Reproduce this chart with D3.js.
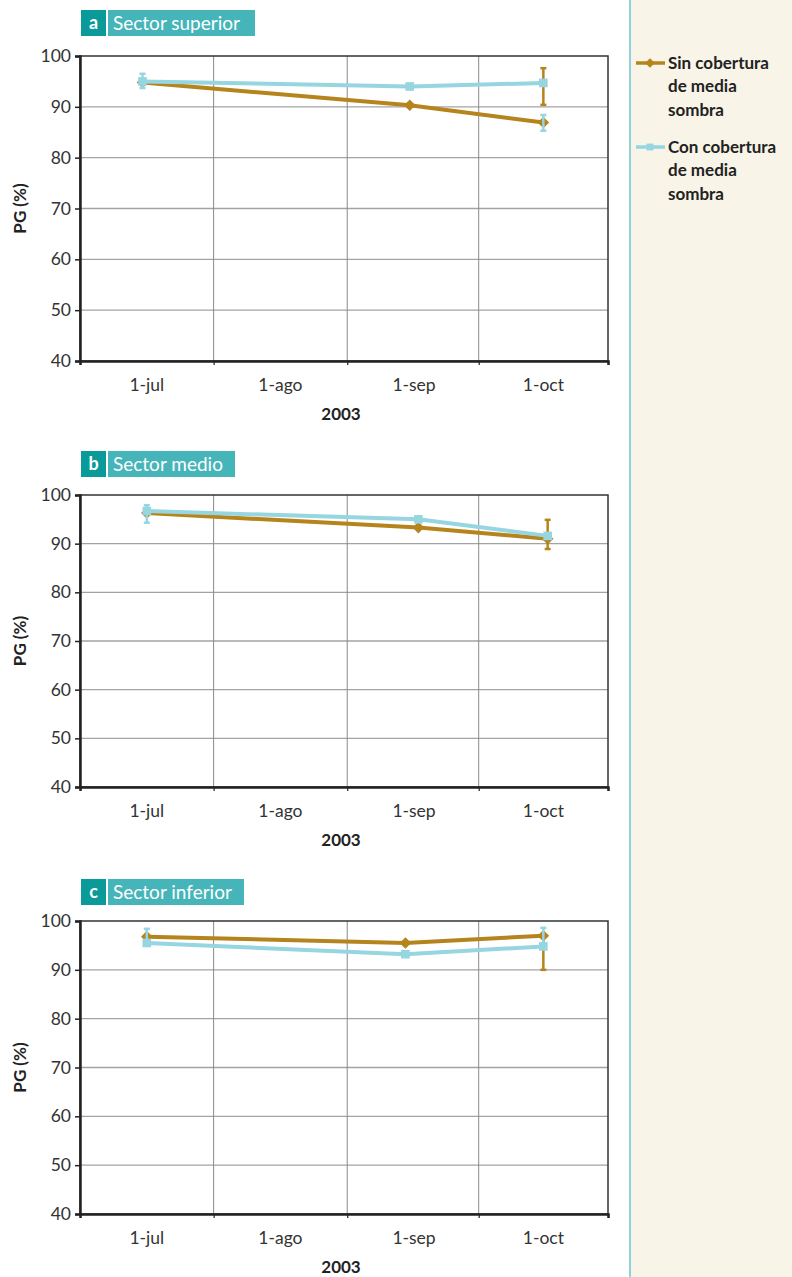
<!DOCTYPE html>
<html>
<head>
<meta charset="utf-8">
<script src="https://cdn.jsdelivr.net/npm/d3@7"></script>
<style>
  html, body { margin: 0; padding: 0; background: #fff; }
  svg { display: block; font-family: Lato, "Open Sans", sans-serif; }
</style>
</head>
<body>
<svg id="chart" width="792" height="1277"></svg>
<script>
// Month ticks on the x axis (labels sit in the middle of each month band)
const monthLabels = ["1-jul", "1-ago", "1-sep", "1-oct"];
const monthDates = ["2003-07-01", "2003-08-01", "2003-09-01", "2003-10-01"];
const yTicks = [40, 50, 60, 70, 80, 90, 100];

// Panels
const sectorLetters = ["a", "b", "c"];
const sectorNames = ["Sector superior", "Sector medio", "Sector inferior"];

// Sampling dates per sector
const sampleDates = [
  ["2003-06-30", "2003-08-31", "2003-10-01"],
  ["2003-07-01", "2003-09-02", "2003-10-02"],
  ["2003-07-01", "2003-08-30", "2003-10-01"]
];

// PG (%) without shade cover
const sinValues = [
  [94.8, 90.3, 86.9],
  [96.3, 93.3, 91.0],
  [96.8, 95.5, 97.0]
];
// PG (%) with shade cover
const conValues = [
  [95.0, 94.0, 94.7],
  [96.7, 95.0, 91.6],
  [95.5, 93.2, 94.8]
];
// Error bars [low, high], null where none is drawn
const sinErrors = [
  [null, null, [90.4, 97.6]],
  [null, null, [88.9, 94.9]],
  [null, null, [90.0, 97.0]]
];
const conErrors = [
  [[93.7, 96.5], null, [85.3, 88.4]],
  [[94.3, 97.9], null, null],
  [[95.5, 98.4], null, [94.8, 98.6]]
];

const legendLines = [["Sin cobertura", "de media", "sombra"], ["Con cobertura", "de media", "sombra"]];

const BROWN = "#b5841c";
const CYAN = "#95d6e0";
const parse = d3.timeParse("%Y-%m-%d");
const FS = 17.5;

const svg = d3.select("#chart");

// Side panel
svg.append("rect").attr("x", 631).attr("y", 0).attr("width", 161).attr("height", 1277).attr("fill", "#f8f4e8");
svg.append("line").attr("x1", 630).attr("x2", 630).attr("y1", 0).attr("y2", 1277)
  .attr("stroke", "#8fd2de").attr("stroke-width", 2);

// Legend
const legend = svg.append("g");
[0, 1].forEach(i => {
  const g = legend.append("g").attr("transform", `translate(0,${i === 0 ? 63 : 147})`);
  const col = i === 0 ? BROWN : CYAN;
  g.append("line").attr("x1", 636).attr("x2", 665).attr("y1", 0).attr("y2", 0)
    .attr("stroke", col).attr("stroke-width", 3.5);
  g.append("path").attr("d", d3.symbol(i === 0 ? d3.symbolDiamond2 : d3.symbolSquare2, i === 0 ? 60 : 60)())
    .attr("transform", "translate(650,0)").attr("fill", col);
  legendLines[i].forEach((t, k) => {
    g.append("text").attr("x", 668).attr("y", k * 23.5).attr("dy", "0.35em")
      .attr("font-size", 17).attr("font-weight", 700).attr("fill", "#222")
      .text(t);
  });
});

// Panel layout
const plotLeft = 80, plotRight = 608;
const plotTops = [56, 495, 921];
const plotBottoms = [361, 787, 1214];
const titleTops = [10, 451, 879];
const labelBoxWidths = [147, 127, 136];

const x = d3.scaleTime()
  .domain([new Date(2003, 5, 15, 12), new Date(2003, 9, 16)])
  .range([plotLeft, plotRight]);
const bandEdges = [new Date(2003, 6, 16, 12), new Date(2003, 7, 16, 12), new Date(2003, 8, 16)];

sectorLetters.forEach((letter, p) => {
  const top = plotTops[p], bottom = plotBottoms[p];
  const y = d3.scaleLinear().domain([40, 100]).range([bottom, top]);
  const g = svg.append("g");

  // Title boxes
  const tt = titleTops[p];
  g.append("rect").attr("x", 81).attr("y", tt).attr("width", 25).attr("height", 26).attr("fill", "#0a9a9a");
  g.append("text").attr("x", 93.5).attr("y", tt + 13).attr("dy", "0.35em").attr("text-anchor", "middle")
    .attr("font-size", 18).attr("font-weight", 700).attr("fill", "#fff").text(letter);
  g.append("rect").attr("x", 108).attr("y", tt).attr("width", labelBoxWidths[p]).attr("height", 26).attr("fill", "#46b5b9");
  g.append("text").attr("x", 113).attr("y", tt + 13).attr("dy", "0.35em")
    .attr("font-size", 19).attr("fill", "#fff").text(sectorNames[p]);

  // Grid
  g.append("g").selectAll("line").data(yTicks.slice(1, -1)).join("line")
    .attr("x1", plotLeft).attr("x2", plotRight).attr("y1", d => y(d)).attr("y2", d => y(d))
    .attr("stroke", "#a3a3a3").attr("stroke-width", 1.3);
  g.append("g").selectAll("line").data(bandEdges).join("line")
    .attr("x1", d => x(d)).attr("x2", d => x(d)).attr("y1", top).attr("y2", bottom)
    .attr("stroke", "#8a8a8a").attr("stroke-width", 1);

  // Frame
  g.append("rect").attr("x", plotLeft).attr("y", top).attr("width", plotRight - plotLeft).attr("height", bottom - top)
    .attr("fill", "none").attr("stroke", "#333").attr("stroke-width", 1.5);

  // Y axis
  const yAxis = d3.axisLeft(y).tickValues(yTicks).tickSize(5).tickPadding(4);
  const ya = g.append("g").attr("transform", `translate(${plotLeft},0)`).call(yAxis);
  ya.select(".domain").attr("stroke", "#222").attr("stroke-width", 2.5);
  ya.selectAll(".tick line").attr("stroke", "#222").attr("stroke-width", 1.5);
  ya.selectAll(".tick text").attr("font-size", FS).attr("fill", "#333")
    .attr("font-family", "Lato, 'Open Sans', sans-serif");

  // X axis: ticks at band edges, labels centred on month starts
  const xa = g.append("g").attr("transform", `translate(0,${bottom})`)
    .call(d3.axisBottom(x).tickValues([x.domain()[0], ...bandEdges, x.domain()[1]]).tickSize(4).tickFormat(""));
  xa.select(".domain").attr("stroke", "#222").attr("stroke-width", 2.5);
  xa.selectAll(".tick line").attr("stroke", "#222").attr("stroke-width", 1.2);
  g.append("g").selectAll("text").data(monthDates).join("text")
    .attr("x", d => x(parse(d))).attr("y", bottom + 24).attr("dy", "0.35em")
    .attr("text-anchor", "middle").attr("font-size", FS).attr("fill", "#333")
    .text((d, i) => monthLabels[i]);
  g.append("text").attr("x", (plotLeft + plotRight) / 2 - 3).attr("y", bottom + 53).attr("dy", "0.35em")
    .attr("text-anchor", "middle").attr("font-size", 17).attr("font-weight", 700).attr("fill", "#222").text("2003");

  // Y title
  g.append("text").attr("transform", `translate(20,${(top + bottom) / 2}) rotate(-90)`)
    .attr("dy", "0.35em").attr("text-anchor", "middle").attr("font-size", 17).attr("font-weight", 700)
    .attr("fill", "#222").text("PG (%)");

  // Series
  const series = [
    { vals: sinValues[p], errs: sinErrors[p], color: BROWN, sym: d3.symbolDiamond2, size: 85 },
    { vals: conValues[p], errs: conErrors[p], color: CYAN, sym: d3.symbolSquare2, size: 95 }
  ];
  const line = d3.line().x(d => x(d.date)).y(d => y(d.v));

  series.forEach(s => {
    const pts = s.vals.map((v, i) => ({ date: parse(sampleDates[p][i]), v, e: s.errs[i] }));
    const sg = g.append("g");
    sg.append("path").datum(pts).attr("d", line).attr("fill", "none")
      .attr("stroke", s.color).attr("stroke-width", 4);
    const eb = sg.selectAll("g.err").data(pts.filter(d => d.e)).join("g");
    eb.append("line").attr("x1", d => x(d.date)).attr("x2", d => x(d.date))
      .attr("y1", d => y(d.e[0])).attr("y2", d => y(d.e[1]))
      .attr("stroke", s.color).attr("stroke-width", 2.5);
    eb.selectAll("line.cap").data(d => [[d.date, d.e[0]], [d.date, d.e[1]]]).join("line")
      .attr("x1", d => x(d[0]) - 3).attr("x2", d => x(d[0]) + 3)
      .attr("y1", d => y(d[1])).attr("y2", d => y(d[1]))
      .attr("stroke", s.color).attr("stroke-width", 2.5);
    sg.selectAll("path.mk").data(pts).join("path")
      .attr("d", d3.symbol(s.sym, s.size)())
      .attr("transform", d => `translate(${x(d.date)},${y(d.v)})`)
      .attr("fill", s.color);
  });
});
</script>
</body>
</html>
